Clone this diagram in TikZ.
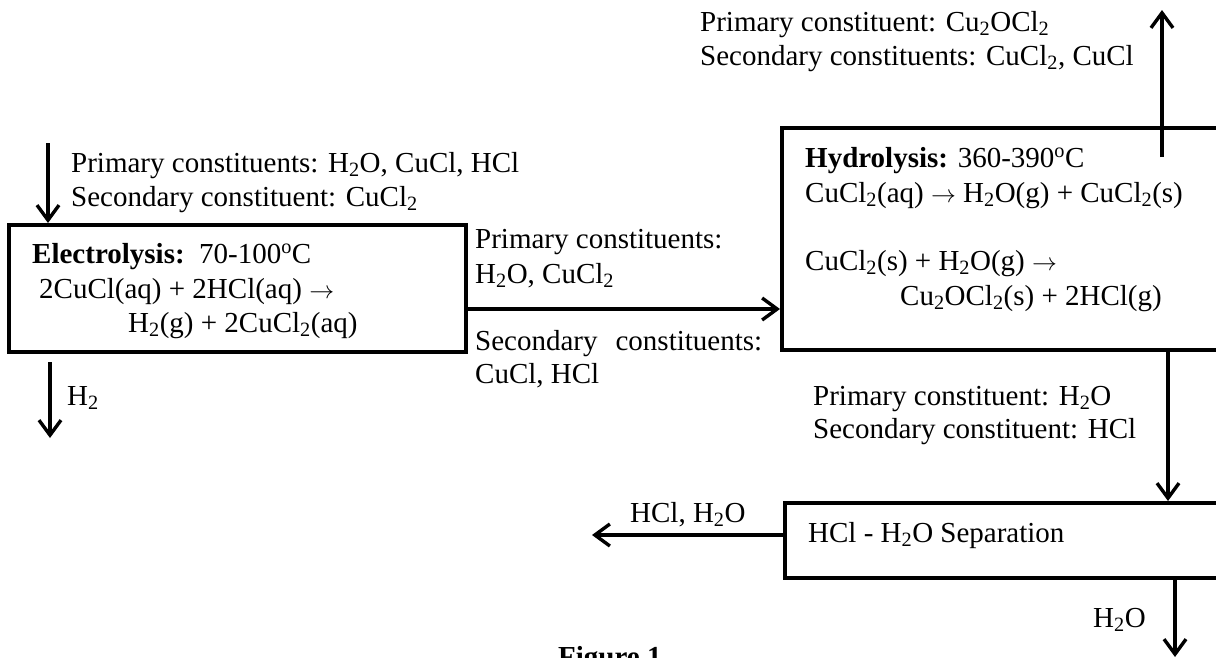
\documentclass[tikz,border=0pt]{standalone}
\usepackage{fontspec}
\setmainfont{Liberation Serif}
\usetikzlibrary{arrows.meta}
\newcommand{\lo}[1]{\textsubscript{#1}}
\newcommand{\yields}{$\rightarrow$}
\tikzset{
	unitbox/.style={draw, line width=4pt, rectangle, inner sep=0pt},
	flow/.style={line width=3.4pt, -{Straight Barb[length=15pt,width=22pt]}},
	lbl/.style={anchor=base west, inner sep=0pt, font=\fontsize{29}{34}\selectfont},
}

\begin{document}
\begin{tikzpicture}[x=1pt, y=-1pt]
			%%%%% START %%%%%
			\useasboundingbox (0,0) rectangle (1216,657);
			
			% process units
			\node[unitbox, minimum width=457pt, minimum height=127pt] (elec) at (237.5,288.5) {};
			\node[unitbox, minimum width=448pt, minimum height=222pt] (hyd) at (1006,239) {};
			\node[unitbox, minimum width=445pt, minimum height=75pt] (sep) at (1007.5,540.5) {};
			
			% electrolysis
			\node[lbl] (inP) at (71,172) {Primary constituents: H\lo{2}O, CuCl, HCl};
			\node[lbl] (inS) at (71,206) {Secondary constituent: CuCl\lo{2}};
			\node[lbl] (elecT) at (32,263) {\textbf{Electrolysis:}\ \ 70-100\textsuperscript{o}C};
			\node[lbl] (elecR1) at (39,298) {2CuCl(aq) + 2HCl(aq) \yields};
			\node[lbl] (elecR2) at (128,332) {H\lo{2}(g) + 2CuCl\lo{2}(aq)};
			\node[lbl] (hydrogen) at (67,405) {H\lo{2}};
			
			% stream between the units
			\node[lbl] (midP1) at (475,248) {Primary constituents:};
			\node[lbl] (midP2) at (475,283) {H\lo{2}O, CuCl\lo{2}};
			\node[lbl] (midS1) at (475,350) {\makebox[287pt][s]{Secondary constituents:}};
			\node[lbl] (midS2) at (475,383) {CuCl, HCl};
			
			% hydrolysis
			\node[lbl] (hydT) at (805,167) {\textbf{Hydrolysis:} 360-390\textsuperscript{o}C};
			\node[lbl] (hydR1) at (805,202) {CuCl\lo{2}(aq) \yields\ H\lo{2}O(g) + CuCl\lo{2}(s)};
			\node[lbl] (hydR2) at (805,270) {CuCl\lo{2}(s) + H\lo{2}O(g) \yields};
			\node[lbl] (hydR3) at (900,305) {Cu\lo{2}OCl\lo{2}(s) + 2HCl(g)};
			\node[lbl] (outP) at (700,31) {Primary constituent: Cu\lo{2}OCl\lo{2}};
			\node[lbl] (outS) at (700,65) {Secondary constituents: CuCl\lo{2}, CuCl};
			\node[lbl] (downP) at (813,405) {Primary constituent: H\lo{2}O};
			\node[lbl] (downS) at (813,438) {Secondary constituent: HCl};
			
			% separation
			\node[lbl] (sepT) at (808,542) {HCl - H\lo{2}O Separation};
			\node[lbl] (acid) at (630,522) {HCl, H\lo{2}O};
			\node[lbl] (water) at (1093,627) {H\lo{2}O};
			
			\node[lbl, font=\fontsize{29}{34}\selectfont\bfseries] (caption) at (558,666) {Figure 1};
			
			% streams
			\coordinate (feed) at (48,143);
			\coordinate (hA) at (50,362);
			\coordinate (hB) at (50,438);
			\coordinate (upA) at (1162,157);
			\coordinate (upB) at (1162,10);
			\coordinate (recyc) at (592,535);
			\coordinate (drain) at (1175,657);
			
			\draw[flow] (feed) -- (feed |- elec.north);
			\draw[flow] (hA) -- (hB);
			\draw[flow] (elec.east |- 0,309) -- (hyd.west |- 0,309);
			\draw[flow] (upA) -- (upB);
			\draw[flow] (hyd.south -| 1168,0) -- (sep.north -| 1168,0);
			\draw[flow] (sep.west |- recyc) -- (recyc);
			\draw[flow] (sep.south -| drain) -- (drain);
			
			%%%%% END %%%%%
\end{tikzpicture}
\end{document}
